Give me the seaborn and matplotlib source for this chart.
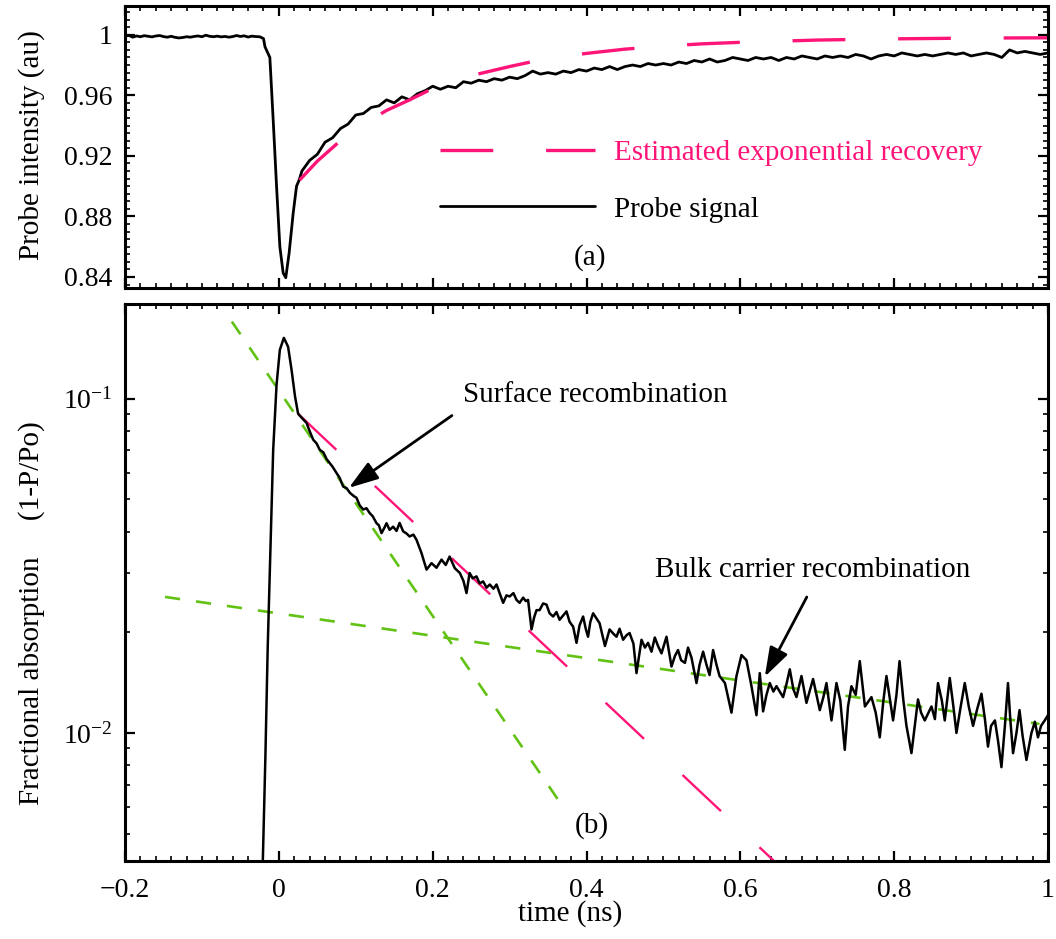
import matplotlib
matplotlib.use("Agg")
import matplotlib.pyplot as plt
import seaborn as sns
from matplotlib.ticker import FixedLocator, MultipleLocator, FixedFormatter, NullFormatter, LogLocator

# ---------------- data ----------------
# panel (a): probe intensity
time_a = [-0.200, -0.195, -0.190, -0.185, -0.180, -0.175, -0.170, -0.165, -0.160, -0.155,
          -0.150, -0.145, -0.140, -0.135, -0.130, -0.125, -0.120, -0.115, -0.110, -0.105,
          -0.100, -0.095, -0.090, -0.085, -0.080, -0.075, -0.070, -0.065, -0.060, -0.055,
          -0.050, -0.045, -0.040, -0.035, -0.030, -0.025,
          -0.020, -0.018, -0.0117, -0.0074, -0.003, 0.0013, 0.0056, 0.009, 0.0134, 0.0186,
          0.023, 0.0264,
          0.03, 0.04, 0.05, 0.06, 0.07, 0.08, 0.09, 0.10, 0.11, 0.12, 0.13, 0.14, 0.15, 0.16,
          0.17, 0.18, 0.19, 0.20, 0.21, 0.22, 0.23, 0.24, 0.25, 0.26, 0.27, 0.28, 0.29, 0.30,
          0.31, 0.32, 0.33, 0.34, 0.35, 0.36, 0.37, 0.38, 0.39, 0.40, 0.41, 0.42, 0.43, 0.44,
          0.45, 0.46, 0.47, 0.48, 0.49, 0.50, 0.51, 0.52, 0.53, 0.54, 0.55, 0.56, 0.57, 0.58,
          0.59, 0.60, 0.61, 0.62, 0.63, 0.64, 0.65, 0.66, 0.67, 0.68, 0.69, 0.70, 0.71, 0.72,
          0.73, 0.74, 0.75, 0.76, 0.77, 0.78, 0.79, 0.80, 0.81, 0.82, 0.83, 0.84, 0.85, 0.86,
          0.87, 0.88, 0.89, 0.90, 0.91, 0.92, 0.93, 0.94, 0.95, 0.96, 0.97, 0.98, 0.99, 1.00]
probe = [0.9990, 0.9996, 0.9984, 0.9992, 0.9987, 0.9994, 0.9990, 0.9986, 0.9992, 0.9995,
         0.9988, 0.9984, 0.9990, 0.9983, 0.9979, 0.9982, 0.9987, 0.9984, 0.9989, 0.9992,
         0.9987, 0.9997, 0.9990, 0.9987, 0.9991, 0.9986, 0.9989, 0.9984, 0.9988, 0.9995,
         0.9989, 0.9993, 0.9985, 0.9991, 0.9988, 0.9987,
         0.9975, 0.992, 0.985, 0.944, 0.900, 0.860, 0.8426, 0.8395, 0.856, 0.882,
         0.900, 0.904,
         0.910, 0.917, 0.921, 0.929, 0.932, 0.938, 0.941, 0.947, 0.948, 0.952, 0.953, 0.957, 0.955, 0.959,
         0.957, 0.961, 0.963, 0.966, 0.964, 0.966, 0.965, 0.969, 0.968, 0.970, 0.969, 0.971, 0.970, 0.972,
         0.971, 0.973, 0.976, 0.974, 0.975, 0.974, 0.976, 0.975, 0.977, 0.976, 0.978, 0.977, 0.979, 0.977,
         0.979, 0.980, 0.979, 0.981, 0.980, 0.981, 0.980, 0.982, 0.981, 0.983, 0.982, 0.984, 0.982, 0.983,
         0.985, 0.984, 0.983, 0.985, 0.984, 0.985, 0.983, 0.985, 0.984, 0.986, 0.985, 0.984, 0.986, 0.985,
         0.986, 0.985, 0.987, 0.986, 0.984, 0.986, 0.987, 0.986, 0.988, 0.987, 0.986, 0.987, 0.986, 0.987,
         0.988, 0.987, 0.988, 0.986, 0.987, 0.988, 0.987, 0.985, 0.990, 0.988, 0.989, 0.988, 0.987, 0.988]

# estimated exponential recovery (panel a)
time_fit_a = [0.027, 0.05, 0.08, 0.11, 0.14, 0.17, 0.20, 0.25, 0.30, 0.35, 0.40, 0.45,
              0.50, 0.55, 0.60, 0.70, 0.80, 0.90, 1.00]
recovery = [0.904, 0.9165, 0.930, 0.941, 0.950, 0.957, 0.9645, 0.973, 0.979, 0.9845,
            0.9877, 0.9905, 0.9925, 0.994, 0.995, 0.9965, 0.9973, 0.9978, 0.998]

# panel (b): fractional absorption
time_b = [-0.030, -0.021, -0.0175, -0.0145, -0.011, -0.0074, -0.003, 0.0013, 0.0065, 0.012,
          0.0165, 0.021, 0.025, 0.030, 0.036, 0.040, 0.0446, 0.049, 0.053, 0.058,
          0.062, 0.066, 0.070, 0.075, 0.079, 0.0836, 0.088, 0.0923, 0.097, 0.101,
          0.105, 0.1096, 0.114, 0.118, 0.122, 0.127, 0.130, 0.1335, 0.137, 0.140,
          0.144, 0.1486, 0.153, 0.157, 0.1616, 0.166, 0.170, 0.175, 0.179, 0.1855,
          0.192, 0.1985, 0.205, 0.2115, 0.217, 0.222, 0.2288, 0.2353, 0.240, 0.244,
          0.248, 0.252, 0.257, 0.261, 0.2656, 0.270, 0.2743, 0.279, 0.283, 0.287,
          0.2916, 0.296, 0.300, 0.305, 0.309, 0.313, 0.3176, 0.321, 0.324, 0.3285,
          0.332, 0.335, 0.339, 0.3436, 0.348, 0.352, 0.3566, 0.361, 0.365, 0.370,
          0.374, 0.378, 0.3826, 0.387, 0.391, 0.3956, 0.399, 0.402, 0.405, 0.4086,
          0.413, 0.417, 0.424, 0.430, 0.435, 0.439, 0.443, 0.4476, 0.452, 0.456,
          0.461, 0.465, 0.4715, 0.476, 0.480, 0.4845, 0.4888, 0.493, 0.4975, 0.504,
          0.5105, 0.515, 0.519, 0.523, 0.528, 0.532, 0.5365, 0.543, 0.547, 0.5516,
          0.556, 0.560, 0.5646, 0.569, 0.573, 0.580, 0.5885, 0.595, 0.6015, 0.608,
          0.6145, 0.621, 0.6253, 0.6296, 0.634, 0.6383, 0.643, 0.647, 0.6556, 0.660,
          0.6643, 0.669, 0.673, 0.6795, 0.686, 0.690, 0.6946, 0.699, 0.7033, 0.708,
          0.712, 0.7185, 0.725, 0.730, 0.7358, 0.740, 0.7445, 0.750, 0.7553, 0.762,
          0.7705, 0.776, 0.7813, 0.786, 0.790, 0.7986, 0.803, 0.807, 0.812, 0.816,
          0.8225, 0.831, 0.835, 0.8398, 0.8485, 0.853, 0.857, 0.862, 0.8658, 0.8723,
          0.877, 0.881, 0.886, 0.8918, 0.897, 0.9026, 0.908, 0.9135, 0.918, 0.922,
          0.926, 0.931, 0.935, 0.9395, 0.944, 0.948, 0.951, 0.9546, 0.959, 0.963,
          0.967, 0.972, 0.9785, 0.983, 0.987, 0.991, 0.9958, 1.000]
absorption = [0.0010, 0.0040, 0.0085, 0.018, 0.035, 0.070, 0.110, 0.140, 0.152, 0.143,
              0.122, 0.1016, 0.0902, 0.0875, 0.0846, 0.0800, 0.0754, 0.0735, 0.0704, 0.0690,
              0.0660, 0.0642, 0.0625, 0.0599, 0.0580, 0.0546, 0.0540, 0.0523, 0.0512, 0.0505,
              0.0480, 0.0466, 0.0470, 0.0455, 0.0445, 0.0424, 0.0418, 0.0396, 0.0410, 0.0424,
              0.0405, 0.0414, 0.0402, 0.0425, 0.0401, 0.0395, 0.0387, 0.0392, 0.0378, 0.0345,
              0.0308, 0.0322, 0.0312, 0.0330, 0.0318, 0.0337, 0.0311, 0.0301, 0.0285, 0.0262,
              0.0301, 0.0290, 0.0294, 0.0280, 0.0284, 0.0272, 0.0278, 0.0270, 0.0278, 0.0262,
              0.0245, 0.0258, 0.0256, 0.0262, 0.0250, 0.0245, 0.0254, 0.0248, 0.0250, 0.0204,
              0.0222, 0.0233, 0.0233, 0.0244, 0.0242, 0.0228, 0.0223, 0.0230, 0.0218, 0.0225,
              0.0231, 0.0215, 0.0208, 0.0186, 0.0210, 0.0223, 0.0205, 0.0194, 0.0215, 0.0228,
              0.0220, 0.0213, 0.0182, 0.0204, 0.0198, 0.0194, 0.0205, 0.0190, 0.0196, 0.0199,
              0.0185, 0.0151, 0.0190, 0.0180, 0.0186, 0.0175, 0.0193, 0.0182, 0.0173, 0.0194,
              0.0158, 0.0170, 0.0177, 0.0165, 0.0162, 0.0180, 0.0168, 0.0141, 0.0160, 0.0175,
              0.0160, 0.0149, 0.0177, 0.0160, 0.0148, 0.0141, 0.0115, 0.0148, 0.0171, 0.0165,
              0.0138, 0.0113, 0.0151, 0.0116, 0.0130, 0.0141, 0.0133, 0.0138, 0.0128, 0.0140,
              0.0155, 0.0135, 0.0128, 0.0148, 0.0123, 0.0133, 0.0145, 0.0130, 0.0117, 0.0128,
              0.0141, 0.0109, 0.0141, 0.0125, 0.0089, 0.0120, 0.0138, 0.0130, 0.0164, 0.0120,
              0.0128, 0.0115, 0.0097, 0.0125, 0.0148, 0.0109, 0.0130, 0.0164, 0.0125, 0.0105,
              0.0087, 0.0126, 0.0115, 0.0109, 0.0120, 0.0110, 0.0141, 0.0125, 0.0109, 0.0146,
              0.0120, 0.0100, 0.0118, 0.0141, 0.0120, 0.0105, 0.0118, 0.0131, 0.0110, 0.0091,
              0.0105, 0.0109, 0.0095, 0.0079, 0.0105, 0.0141, 0.0110, 0.0087, 0.0100, 0.0117,
              0.0098, 0.0083, 0.0100, 0.0108, 0.0097, 0.0105, 0.0109, 0.0113]

# straight-line (on log scale) estimates in panel (b)
time_exp_b = [0.0247, 0.66]
exp_b = [0.0902, 0.00382]
time_surface = [-0.0611, 0.3731]
surface_fit = [0.170, 0.00584]
time_bulk = [-0.148, 0.989]
bulk_fit = [0.02552, 0.01064]

xticks = [-0.2, 0.0, 0.2, 0.4, 0.6, 0.8, 1.0]
xtick_labels = ["\u22120.2", "0", "0.2", "0.4", "0.6", "0.8", "1"]
yticks_a = [0.84, 0.88, 0.92, 0.96, 1.0]
ytick_labels_a = ["0.84", "0.88", "0.92", "0.96", "1"]
yticks_b = [0.01, 0.1]
ytick_labels_b = [r"$\mathregular{10^{-2}}$", r"$\mathregular{10^{-1}}$"]

legend_labels = ["Estimated exponential recovery", "Probe signal"]

PINK = "#FF1478"
GREEN = "#62C214"

# ---------------- style ----------------
sns.set_theme(style="ticks")
plt.rcParams["font.family"] = ["Liberation Serif", "DejaVu Serif"]
plt.rcParams["mathtext.fontset"] = "custom"
plt.rcParams["mathtext.rm"] = "Liberation Serif"
plt.rcParams["mathtext.it"] = "Liberation Serif:italic"
plt.rcParams["lines.scale_dashes"] = False
plt.rcParams["axes.unicode_minus"] = True

fig = plt.figure(figsize=(10.56, 9.39), dpi=100)
ax1 = fig.add_axes([0.1184, 0.6933, 0.874, 0.3003])
ax2 = fig.add_axes([0.1184, 0.0831, 0.874, 0.5932])

LONG_DASH = (0, (38, 38))
SHORT_DASH = (0, (11, 11.5))

# panel (a)
sns.lineplot(x=time_a, y=probe, ax=ax1, color="black", lw=2.0, estimator=None, sort=False)
sig_line = ax1.lines[-1]
sns.lineplot(x=time_fit_a, y=recovery, ax=ax1, color=PINK, lw=2.4, linestyle=LONG_DASH,
             estimator=None, sort=False)
fit_line = ax1.lines[-1]

# panel (b)
sns.lineplot(x=time_surface, y=surface_fit, ax=ax2, color=GREEN, lw=1.9, linestyle=SHORT_DASH,
             estimator=None, sort=False)
sns.lineplot(x=time_bulk, y=bulk_fit, ax=ax2, color=GREEN, lw=1.9, linestyle=SHORT_DASH,
             estimator=None, sort=False)
sns.lineplot(x=time_exp_b, y=exp_b, ax=ax2, color=PINK, lw=1.7, linestyle=LONG_DASH,
             estimator=None, sort=False)
sns.lineplot(x=time_b, y=absorption, ax=ax2, color="black", lw=1.8, estimator=None, sort=False)
ax2.set_yscale("log")


def style_axes(ax):
    for s in ax.spines.values():
        s.set_visible(True)
        s.set_linewidth(2.2)
        s.set_color("black")
    ax.grid(False)
    ax.set_facecolor("white")
    ax.tick_params(which="both", direction="in", top=True, right=True, colors="black",
                   labelsize=20)
    ax.tick_params(which="major", length=7, width=1.6, pad=9)
    ax.tick_params(which="minor", length=3.5, width=1.2)
    ax.set_xlim(-0.2, 1.0)
    ax.xaxis.set_major_locator(FixedLocator(xticks))
    ax.xaxis.set_major_formatter(FixedFormatter(xtick_labels))
    ax.xaxis.set_minor_locator(MultipleLocator(0.02))


style_axes(ax1)
style_axes(ax2)

ax1.set_ylim(0.8327, 1.019)
ax1.yaxis.set_major_locator(FixedLocator(yticks_a))
ax1.yaxis.set_major_formatter(FixedFormatter(ytick_labels_a))
ax1.yaxis.set_minor_locator(MultipleLocator(0.005))
ax1.tick_params(labelbottom=False)
ax1.set_xlabel("")
ax1.set_ylabel("Probe intensity (au)", fontsize=21, color="black")
ax1.yaxis.set_label_coords(-0.087, 0.507)

ax2.set_ylim(0.00414, 0.192)
ax2.yaxis.set_major_locator(FixedLocator(yticks_b))
ax2.yaxis.set_major_formatter(FixedFormatter(ytick_labels_b))
ax2.yaxis.set_minor_locator(LogLocator(base=10, subs=[2, 3, 4, 5, 6, 7, 8, 9]))
ax2.yaxis.set_minor_formatter(NullFormatter())
ax2.tick_params(axis="x", pad=12)
ax2.set_xlabel("time (ns)", fontsize=21, color="black")
ax2.xaxis.set_label_coords(0.482, -0.071)
ax2.set_ylabel("Fractional absorption     (1-P/Po)", fontsize=21, color="black")
ax2.yaxis.set_label_coords(-0.087, 0.445)

# legend of panel (a)
leg = ax1.legend([fit_line, sig_line], legend_labels, loc="upper left",
                 bbox_to_anchor=(440 / 1056, 1 - 140 / 939), bbox_transform=fig.transFigure,
                 frameon=False, fontsize=21, handlelength=5.3, handletextpad=0.68,
                 labelspacing=1.02, borderpad=0, borderaxespad=0,
                 labelcolor=[PINK, "black"])

ax1.text(0.4043, 0.8526, "(a)", fontsize=21, ha="center", va="center", color="black")
ax2.text(0.407, 0.00527, "(b)", fontsize=21, ha="center", va="center", color="black")

ax2.text(0.239, 0.1028, "Surface recombination", fontsize=21, ha="left", va="center",
         color="black")
ax2.text(0.4888, 0.0308, "Bulk carrier recombination", fontsize=21, ha="left", va="center",
         color="black")

arrow_kw = dict(arrowstyle="-|>,head_length=0.9,head_width=0.3", color="black", lw=2.0,
                mutation_scale=20, shrinkA=0, shrinkB=0)
ax2.annotate("", xy=(0.091, 0.0541), xytext=(0.225, 0.0890), arrowprops=arrow_kw)
ax2.annotate("", xy=(0.6318, 0.01473), xytext=(0.6864, 0.0255), arrowprops=arrow_kw)

fig.savefig("out.png", dpi=100, facecolor="white")
